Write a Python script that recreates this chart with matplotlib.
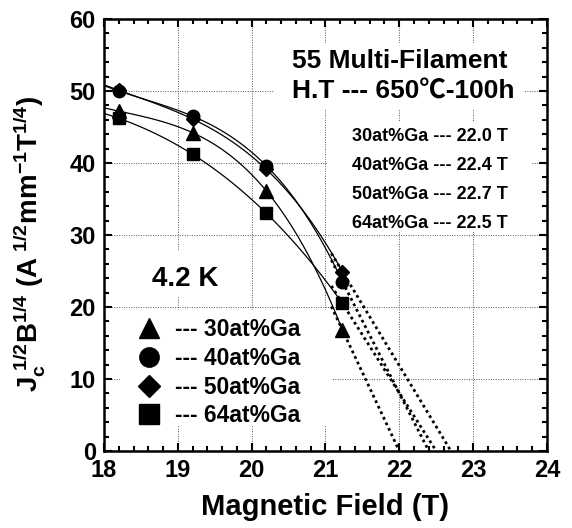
import numpy as np
import matplotlib.pyplot as plt
from matplotlib.patches import Rectangle
from matplotlib.ticker import MultipleLocator

plt.rcParams['font.family'] = ['Liberation Sans', 'Noto Sans CJK JP', 'DejaVu Sans']
plt.rcParams['font.weight'] = 'bold'
plt.rcParams['mathtext.fontset'] = 'custom'
plt.rcParams['mathtext.rm'] = 'Liberation Sans:bold'
plt.rcParams['mathtext.bf'] = 'Liberation Sans:bold'
plt.rcParams['mathtext.it'] = 'Liberation Sans:bold'

# measured points (Kramer-type plot)
field = [18.2, 19.2, 20.2, 21.23]
ga_30 = [47.2, 44.2, 36.1, 16.8]
ga_40 = [50.0, 46.5, 39.6, 23.5]
ga_50 = [50.1, 46.1, 39.1, 24.9]
ga_64 = [46.2, 41.2, 33.0, 20.5]
labels = ['30at%Ga', '40at%Ga', '50at%Ga', '64at%Ga']
markers = ['^', 'o', 'D', 's']
bc2 = [22.0, 22.4, 22.7, 22.5]

series = [ga_30, ga_40, ga_50, ga_64]

fig = plt.figure(figsize=(5.72, 5.28), dpi=100)
ax = fig.add_axes([0.182, 0.146, 0.774, 0.818])

handles = []
for vals, mk, lab, b in zip(series, markers, labels, bc2):
    x = np.array(field)
    y = np.array(vals)
    # smooth curve through the measured points
    coef = np.polyfit(x, y, 3)
    xs = np.linspace(18.0, x[-1], 100)
    ax.plot(xs, np.polyval(coef, xs), color='black', lw=0.9, zorder=3)
    # linear extrapolation to Bc2
    slope = -y[-1] / (b - x[-1])
    xd = np.array([x[-1] - 0.15, b])
    ax.plot(xd, y[-1] + slope * (xd - x[-1]), color='black', lw=2.0,
            ls=(0, (1, 1.2)), zorder=3)
    ms = 7.5 if mk == 'D' else (9 if mk != '^' else 9.5)
    h, = ax.plot(x, y, ls='none', marker=mk, color='black', ms=ms, zorder=4)
    handles.append(h)

ax.set_xlim(18, 24)
ax.set_ylim(0, 60)
ax.xaxis.set_major_locator(MultipleLocator(1))
ax.xaxis.set_minor_locator(MultipleLocator(0.2))
ax.yaxis.set_major_locator(MultipleLocator(10))
ax.yaxis.set_minor_locator(MultipleLocator(2))
ax.tick_params(which='both', direction='in', top=True, right=True, width=1.5)
ax.tick_params(which='major', length=6, labelsize=17, pad=6)
ax.tick_params(which='minor', length=3.5)
for s in ax.spines.values():
    s.set_linewidth(1.8)
ax.grid(True, which='major', color='#555555', ls=(0, (1, 1.5)), lw=0.7)
ax.set_axisbelow(True)

# white patches behind the text blocks (they mask the grid)
for x0, y0, w, h in [(20.3, 47.3, 3.4, 9.3), (21.04, 30.4, 2.74, 15.3),
                     (18.22, 3.6, 2.88, 16.0), (18.55, 21.5, 1.15, 6.4)]:
    ax.add_patch(Rectangle((x0, y0), w, h, fc='white', ec='none', zorder=1))

ax.set_xlabel('Magnetic Field (T)', fontsize=21, fontweight='bold', labelpad=8)
ax.set_ylabel(r'$\mathbf{J_c^{\ 1/2}B^{1/4}\ (A^{\ 1/2}mm^{-1}T^{1/4})}$',
              fontsize=20, labelpad=6)
ax.yaxis.set_label_coords(-0.13, 0.48)

ax.text(20.55, 53.2, '55 Multi-Filament', fontsize=19, fontweight='bold',
        va='baseline', zorder=5)
ax.text(20.55, 49.0, 'H.T --- 650\u2103-100h', fontsize=19, fontweight='bold',
        va='baseline', zorder=5)
info = '\n'.join(f'{lab} --- {b:.1f} T' for lab, b in zip(labels, bc2))
ax.text(21.36, 44.9, info, fontsize=13, fontweight='bold', va='top',
        linespacing=1.93, zorder=5)
ax.text(18.65, 22.9, '4.2 K', fontsize=20, fontweight='bold', va='baseline',
        zorder=5)

leg = ax.legend(handles, ['--- ' + l for l in labels], loc='upper left',
                bbox_to_anchor=(0.03, 0.35), fontsize=16.5, markerscale=1.55,
                handlelength=1.2, handletextpad=0.5, labelspacing=0.25,
                frameon=False, borderpad=0.3)
leg.set_zorder(5)

fig.savefig('out.png', dpi=100)
